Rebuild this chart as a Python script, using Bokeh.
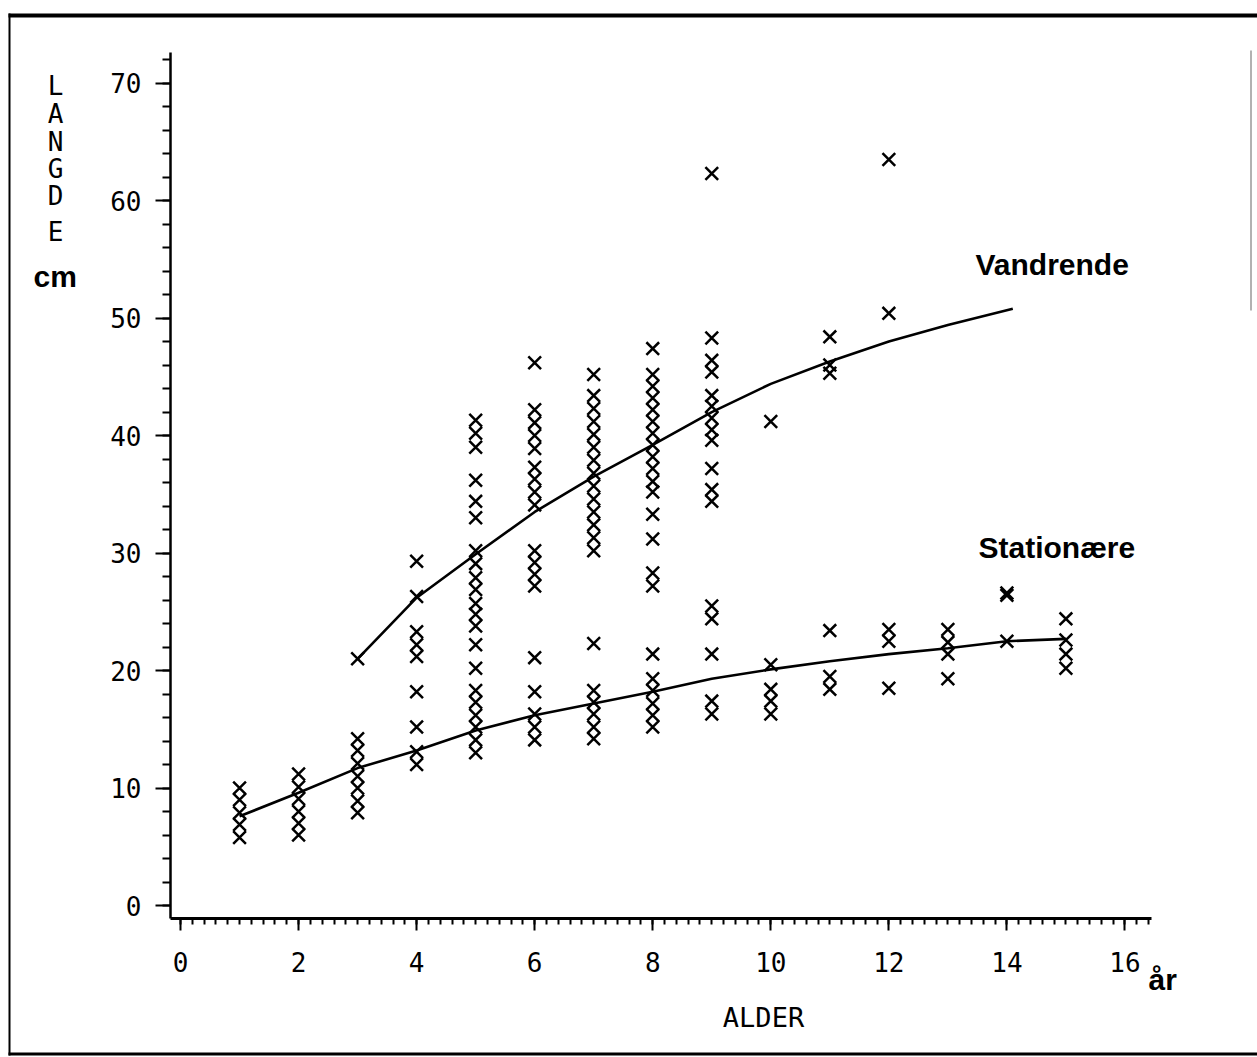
from bokeh.plotting import figure
from bokeh.models import Range1d, SingleIntervalTicker, Label, BoxAnnotation
from bokeh.embed import file_html
from bokeh.resources import INLINE

# ---------------- data ----------------
vandrende_by_age = {
    3: [21.0],
    4: [29.3, 26.3, 23.3, 22.2, 21.2],
    5: [41.3, 40.2, 39.0, 36.2, 34.4, 33.0, 30.2, 29.1, 27.9, 26.9, 25.7, 24.8, 23.8],
    6: [46.2, 42.2, 41.1, 40.0, 38.9, 37.3, 36.3, 35.2, 34.1, 30.2, 29.2, 28.2, 27.2],
    7: [45.2, 43.4, 42.3, 41.2, 40.1, 39.0, 37.9, 36.8, 35.7, 34.6, 33.5, 32.4, 31.3, 30.2],
    8: [47.4, 45.2, 44.2, 43.2, 42.2, 41.2, 40.2, 39.2, 38.2, 37.2, 36.1, 35.2, 33.3, 31.2, 28.3, 27.2],
    9: [62.3, 48.3, 46.4, 45.4, 43.4, 42.5, 41.5, 40.5, 39.6, 37.2, 35.4, 34.4],
    10: [41.2],
    11: [48.4, 46.0, 45.3],
    12: [63.5, 50.4],
}
stationaere_by_age = {
    1: [10.0, 9.0, 7.9, 6.9, 5.8],
    2: [11.2, 10.1, 9.1, 8.0, 7.0, 6.0],
    3: [14.2, 13.2, 12.1, 11.0, 10.0, 8.9, 7.9],
    4: [18.2, 15.2, 13.1, 12.0],
    5: [22.2, 20.2, 18.3, 17.3, 16.2, 15.2, 14.1, 13.0],
    6: [21.1, 18.2, 16.3, 15.2, 14.1],
    7: [22.3, 18.3, 17.3, 16.3, 15.2, 14.2],
    8: [21.4, 19.3, 18.3, 17.2, 16.2, 15.2],
    9: [25.5, 24.4, 21.4, 17.4, 16.3],
    10: [20.5, 18.4, 17.4, 16.3],
    11: [23.4, 19.5, 18.4],
    12: [23.5, 22.5, 18.5],
    13: [23.5, 22.4, 21.4, 19.3],
    14: [26.6, 26.4, 22.5],
    15: [24.4, 22.6, 21.4, 20.2],
}

vandrende_curve_age = [3, 4, 5, 6, 7, 8, 9, 10, 11, 12, 13, 14.1]
vandrende_curve_len = [21.0, 26.2, 29.9, 33.5, 36.5, 39.2, 42.0, 44.4, 46.3, 48.0, 49.4, 50.8]

stationaere_curve_age = [1, 2, 3, 4, 5, 6, 7, 8, 9, 10, 11, 12, 13, 14, 15]
stationaere_curve_len = [7.6, 9.6, 11.7, 13.2, 14.9, 16.2, 17.2, 18.2, 19.3, 20.1, 20.8, 21.4, 21.9, 22.5, 22.7]

x_ticks_interval = 2
y_ticks_interval = 10
x_label = "ALDER"
y_label_letters = ["L", "A", "N", "G", "D", "E"]
unit_y = "cm"
unit_x = "år"
label_vandrende = "Vandrende"
label_stationaere = "Stationære"


def flatten(d):
    xs, ys = [], []
    for age, vals in d.items():
        for v in vals:
            xs.append(age)
            ys.append(v)
    return xs, ys


v_age, v_len = flatten(vandrende_by_age)
s_age, s_len = flatten(stationaere_by_age)

# ---------------- layout ----------------
W, H = 1257, 1057
# where the chart's axes sit on the page (pixels)
FL, FR, FT, FB = 170, 1151, 52, 918
# data extent of the axes
X0, X1 = -0.17, 16.45
Y0, Y1 = -1.1, 72.6


def px2x(px):
    return X0 + (px - FL) / (FR - FL) * (X1 - X0)


def px2y(py):
    return Y0 + (FB - py) / (FB - FT) * (Y1 - Y0)


# the plotting frame spans the whole page; the axes are pinned at X0 / Y0
p = figure(width=W, height=H,
           x_range=Range1d(px2x(0), px2x(W)), y_range=Range1d(px2y(H), px2y(0)),
           output_backend="svg", toolbar_location=None, min_border=0)
p.grid.visible = False
p.outline_line_color = None
p.background_fill_color = "white"
p.border_fill_color = "white"

tick_font = "DejaVu Sans Mono"

p.xaxis.ticker = SingleIntervalTicker(interval=x_ticks_interval, num_minor_ticks=10)
p.yaxis.ticker = SingleIntervalTicker(interval=y_ticks_interval, num_minor_ticks=5)
p.xaxis.fixed_location = Y0
p.xaxis.bounds = (X0, X1)
p.yaxis.fixed_location = X0
p.yaxis.bounds = (Y0, Y1)
for ax in (p.xaxis[0], p.yaxis[0]):
    ax.axis_line_color = "black"
    ax.major_tick_line_color = "black"
    ax.minor_tick_line_color = "black"
    ax.major_tick_in = 0
    ax.minor_tick_in = 0
    ax.major_tick_line_width = 2
    ax.minor_tick_line_width = 2
    ax.major_label_text_font = tick_font
    ax.major_label_text_font_size = "26px"
    ax.major_label_text_color = "black"

p.xaxis.axis_line_width = 3
p.xaxis.major_tick_out = 12
p.xaxis.minor_tick_out = 6
p.xaxis.major_label_standoff = 21

p.yaxis.axis_line_width = 2.5
p.yaxis.major_tick_out = 15
p.yaxis.minor_tick_out = 8
p.yaxis.major_label_standoff = 14

# curves
p.line(vandrende_curve_age, vandrende_curve_len, line_color="black", line_width=2.6)
p.line(stationaere_curve_age, stationaere_curve_len, line_color="black", line_width=2.6)

# points
p.scatter(v_age, v_len, marker="x", size=18, line_color="black", line_width=2.5)
p.scatter(s_age, s_len, marker="x", size=18, line_color="black", line_width=2.5)

# labels
sans = "Liberation Sans"


def add_label(px, py, text, font, size, bold=False, align="left", baseline="alphabetic"):
    p.add_layout(Label(x=px2x(px), y=px2y(py), text=text, text_font=font,
                       text_font_size=size, text_font_style="bold" if bold else "normal",
                       text_color="black", text_align=align, text_baseline=baseline))


add_label(975, 264, label_vandrende, sans, "30px", bold=True)
add_label(978, 547, label_stationaere, sans, "30px", bold=True)
add_label(1148, 979, unit_x, sans, "30px", bold=True)
add_label(33, 276, unit_y, sans, "30px", bold=True)
add_label(763, 1017, x_label, tick_font, "27px", align="center", baseline="middle")
letter_centers = [85, 113, 141, 168, 195, 231]
for ch, cy in zip(y_label_letters, letter_centers):
    add_label(55, cy, ch, tick_font, "26px", align="center", baseline="middle")


# outer frame of the page
def strip(l, r, t, b, color="black"):
    p.add_layout(BoxAnnotation(left=px2x(l), right=px2x(r), top=px2y(t), bottom=px2y(b),
                               fill_color=color, fill_alpha=1.0, line_color=None))


strip(8, 1257, 13, 17)
strip(8, 10, 13, 1055)
strip(8, 1257, 1052, 1055)
strip(1250, 1251, 50, 310, color="#666666")

open("out.html", "w").write(file_html(p, INLINE))
